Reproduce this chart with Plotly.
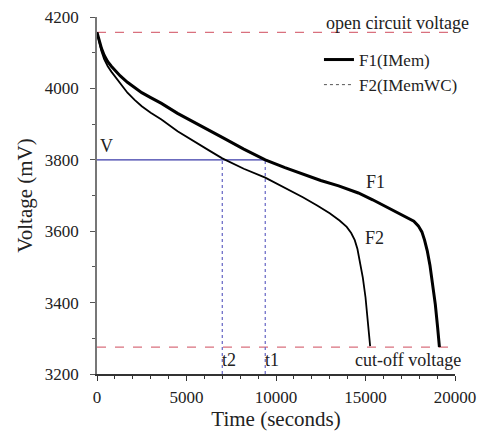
import plotly.graph_objects as go

# ---- data ----
f1_t = [0, 120, 250, 400, 600, 800, 1000, 1300, 1700, 2100, 2500, 3000, 3600, 4500, 5450, 6300,
        7100, 8200, 9400, 10500, 11500, 12500, 13500, 14600, 15400, 16300, 17300, 17700, 17950,
        18150, 18300, 18450, 18600, 18750, 18900, 19030, 19130]
f1_v = [4157, 4132, 4112, 4093, 4075, 4062, 4050, 4035, 4017, 4002, 3988, 3974, 3958, 3930, 3905,
        3882, 3860, 3830, 3800, 3778, 3760, 3742, 3727, 3707, 3688, 3665, 3640, 3628, 3615, 3598,
        3575, 3545, 3505, 3455, 3395, 3330, 3275]

f2_t = [0, 120, 250, 400, 600, 800, 1000, 1300, 1700, 2100, 2500, 3000, 3600, 4500, 5450, 6300,
        7000, 8200, 9400, 10500, 11500, 12300, 13000, 13550, 13950, 14200, 14400, 14550, 14700,
        14850, 15000, 15120, 15220, 15260]
f2_v = [4157, 4128, 4104, 4082, 4062, 4047, 4034, 4012, 3988, 3968, 3950, 3932, 3913, 3880, 3850,
        3825, 3804, 3775, 3750, 3722, 3695, 3672, 3650, 3630, 3612, 3595, 3575, 3550, 3515,
        3470, 3415, 3360, 3300, 3278]

ocv = 4157          # open circuit voltage (mV)
cutoff = 3275       # cut-off voltage (mV)
v_level = 3800      # V
t1 = 9400
t2 = 7000
line_end = 19700
x_ticks = [0, 5000, 10000, 15000, 20000]
y_ticks = [3200, 3400, 3600, 3800, 4000, 4200]

SERIF = "Liberation Serif, Times New Roman, serif"
red = "#d9707e"
blue = "#3a3aa8"
blue_dot = "#7070c8"

fig = go.Figure()

# reference lines
fig.add_trace(go.Scatter(x=[0, line_end], y=[ocv, ocv], mode="lines",
                         line=dict(color=red, width=1.3, dash="dash"), showlegend=False, hoverinfo="skip"))
fig.add_trace(go.Scatter(x=[0, line_end], y=[cutoff, cutoff], mode="lines",
                         line=dict(color=red, width=1.3, dash="dash"), showlegend=False, hoverinfo="skip"))
fig.add_trace(go.Scatter(x=[0, t1], y=[v_level, v_level], mode="lines",
                         line=dict(color=blue, width=1.3), showlegend=False, hoverinfo="skip"))
fig.add_trace(go.Scatter(x=[t2, t2], y=[3200, v_level], mode="lines",
                         line=dict(color=blue_dot, width=1.3, dash="dot"), showlegend=False, hoverinfo="skip"))
fig.add_trace(go.Scatter(x=[t1, t1], y=[3200, v_level], mode="lines",
                         line=dict(color=blue_dot, width=1.3, dash="dot"), showlegend=False, hoverinfo="skip"))

# curves
fig.add_trace(go.Scatter(x=f1_t, y=f1_v, mode="lines", name="F1(IMem)",
                         line=dict(color="black", width=3)))
fig.add_trace(go.Scatter(x=f2_t, y=f2_v, mode="lines", name="F2(IMemWC)", showlegend=False,
                         line=dict(color="black", width=1.8)))
fig.add_trace(go.Scatter(x=[None], y=[None], mode="lines", name="F2(IMemWC)",
                         line=dict(color="#555555", width=1, dash="dot")))

ann_font = dict(family=SERIF, size=18, color="#222222")
annotations = [
    dict(x=1.045, y=ocv, xref="paper", yref="y", text="open circuit voltage",
         xanchor="right", yanchor="bottom", yshift=-3),
    dict(x=1.022, y=cutoff, xref="paper", yref="y", text="cut-off voltage",
         xanchor="right", yanchor="top", yshift=-1),
    dict(x=80, y=v_level, text="V", xanchor="left", yanchor="bottom", yshift=2),
    dict(x=t2, y=cutoff, text="t2", xanchor="left", yanchor="top", yshift=-1, xshift=-2),
    dict(x=t1, y=cutoff, text="t1", xanchor="left", yanchor="top", yshift=-1, xshift=-2),
    dict(x=15550, y=3737, text="F1", xanchor="center", yanchor="middle"),
    dict(x=15500, y=3580, text="F2", xanchor="center", yanchor="middle"),
]
for a in annotations:
    a.setdefault("xref", "x")
    a.setdefault("yref", "y")
    a.update(showarrow=False, font=ann_font)

fig.update_layout(
    width=481, height=434,
    margin=dict(l=97, r=26, t=17, b=60),
    paper_bgcolor="white", plot_bgcolor="white",
    font=dict(family=SERIF, size=17, color="#222222"),
    showlegend=True,
    legend=dict(x=0.62, y=0.93, xanchor="left", yanchor="top", bgcolor="rgba(0,0,0,0)",
                font=dict(family=SERIF, size=17, color="#222222"), tracegroupgap=0),
    annotations=annotations,
    xaxis=dict(range=[0, 20000], tickvals=x_ticks, ticktext=[str(v) for v in x_ticks],
               showgrid=False, zeroline=False, automargin=False,
               showline=True, linecolor="#333333", linewidth=1.5,
               ticks="outside", ticklen=5, tickcolor="#333333", tickwidth=1.2,
               minor=dict(dtick=1000, ticks="outside", ticklen=3, tickcolor="#333333"),
               title=dict(text="Time (seconds)", font=dict(family=SERIF, size=21), standoff=2),
               tickfont=dict(family=SERIF, size=17), ticklabelstandoff=2),
    yaxis=dict(range=[3200, 4200], tickvals=y_ticks, ticktext=[str(v) for v in y_ticks],
               showgrid=False, zeroline=False, automargin=False,
               showline=True, linecolor="#777777", linewidth=1.5,
               ticks="outside", ticklen=5, tickcolor="#555555", tickwidth=1.2,
               minor=dict(dtick=100, ticks="outside", ticklen=3, tickcolor="#555555"),
               title=dict(text="Voltage (mV)", font=dict(family=SERIF, size=21), standoff=6),
               tickfont=dict(family=SERIF, size=17), ticklabelstandoff=8),
)

fig.write_html("out.html")
